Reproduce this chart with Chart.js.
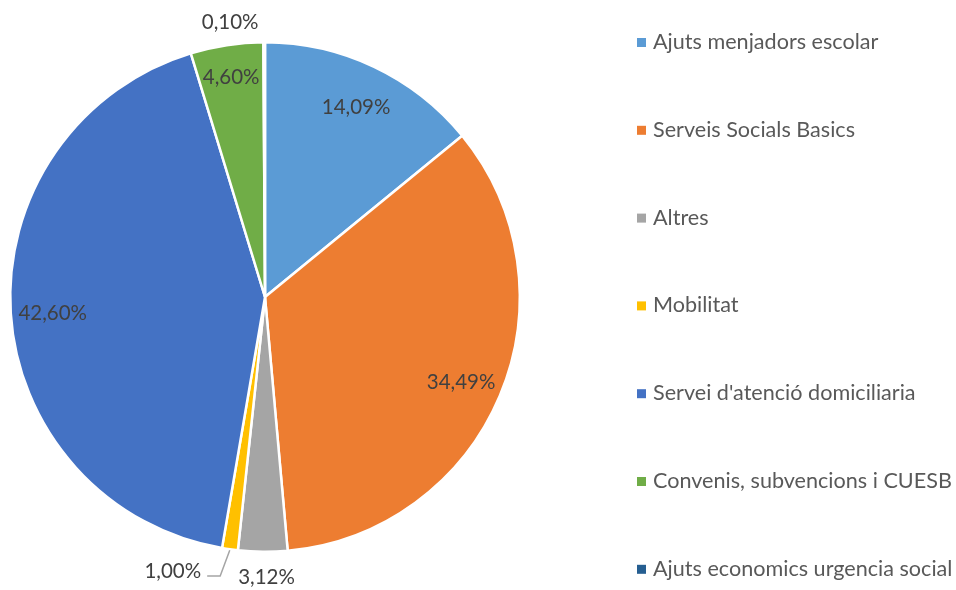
<!DOCTYPE html>
<html>
<head>
<meta charset="utf-8">
<script src="https://cdn.jsdelivr.net/npm/chart.js@4.4.1/dist/chart.umd.min.js"></script>
<style>
  html, body { margin: 0; padding: 0; background: #ffffff; }
  #contenidor { width: 956px; height: 590px; }
</style>
</head>
<body>
<div id="contenidor"><canvas id="graficPressupost"></canvas></div>
<script>
// Dades del gràfic
const categories = [
  'Ajuts menjadors escolar',
  'Serveis Socials Basics',
  'Altres',
  'Mobilitat',
  "Servei d'atenció domiciliaria",
  'Convenis, subvencions i CUESB',
  'Ajuts economics urgencia social'
];
const percentatges = [14.09, 34.49, 3.12, 1.00, 42.60, 4.60, 0.10];
const colors = ['#5B9BD5', '#ED7D31', '#A5A5A5', '#FFC000', '#4472C4', '#70AD47', '#255E91'];

// Com es col·loca cada etiqueta: dins la porció o fora
const posicioEtiqueta = [
  { tipus: 'dins', frac: 0.835 },
  { tipus: 'dins', frac: 0.835 },
  { tipus: 'fora', dist: 26, dx: 4, dy: 0 },
  { tipus: 'guia', dist: 27, dx: -6, dy: 0 },
  { tipus: 'dins', frac: 0.835 },
  { tipus: 'dins', frac: 0.885 },
  { tipus: 'fora', dist: 25, dx: -34, dy: 5 }
];

const FONT = 'Lato, "Open Sans", sans-serif';

function formatPct(v) {
  return v.toFixed(2).replace('.', ',') + '%';
}

// Etiquetes de dades
const etiquetesPlugin = {
  id: 'etiquetes',
  afterDatasetsDraw(chart) {
    const ctx = chart.ctx;
    const arcs = chart.getDatasetMeta(0).data;
    ctx.save();
    ctx.font = '20.5px ' + FONT;
    ctx.fillStyle = '#404040';
    ctx.textBaseline = 'middle';
    arcs.forEach((arc, i) => {
      const { x, y, startAngle, endAngle, outerRadius } =
        arc.getProps(['x', 'y', 'startAngle', 'endAngle', 'outerRadius'], true);
      const mig = (startAngle + endAngle) / 2;
      const text = formatPct(percentatges[i]);
      const pos = posicioEtiqueta[i];
      if (pos.tipus === 'dins') {
        const r = outerRadius * pos.frac;
        ctx.textAlign = 'center';
        ctx.fillText(text, x + Math.cos(mig) * r, y + Math.sin(mig) * r + 3);
      } else if (pos.tipus === 'fora') {
        const r = outerRadius + pos.dist;
        ctx.textAlign = 'center';
        ctx.fillText(text, x + Math.cos(mig) * r + pos.dx, y + Math.sin(mig) * r + pos.dy);
      } else {
        // etiqueta amb línia guia
        const r0 = outerRadius + 1;
        const r1 = outerRadius + pos.dist;
        const x0 = x + Math.cos(mig) * r0;
        const y0 = y + Math.sin(mig) * r0;
        const x1 = x + Math.cos(mig) * r1 + pos.dx;
        const y1 = y + Math.sin(mig) * r1;
        ctx.strokeStyle = '#A5A5A5';
        ctx.lineWidth = 1.5;
        ctx.beginPath();
        ctx.moveTo(x0, y0);
        ctx.lineTo(x1, y1);
        ctx.lineTo(x1 - 13, y1);
        ctx.stroke();
        ctx.textAlign = 'right';
        ctx.fillText(text, x1 - 19, y1 - 5);
      }
    });
    ctx.restore();
  }
};

// Llegenda a la dreta
const llegendaPlugin = {
  id: 'llegenda',
  afterDraw(chart) {
    const ctx = chart.ctx;
    const x = 637;
    const y0 = 42;
    const pas = 87.8;
    ctx.save();
    ctx.font = '21.6px ' + FONT;
    ctx.textBaseline = 'middle';
    ctx.textAlign = 'left';
    categories.forEach((nom, i) => {
      const y = y0 + i * pas;
      ctx.fillStyle = colors[i];
      ctx.fillRect(x, y - 4, 9, 9);
      ctx.fillStyle = '#595959';
      ctx.fillText(nom, x + 16, y);
    });
    ctx.restore();
  }
};

const ctx = document.getElementById('graficPressupost').getContext('2d');
new Chart(ctx, {
  type: 'pie',
  data: {
    labels: categories,
    datasets: [{
      data: percentatges,
      backgroundColor: colors,
      borderColor: '#ffffff',
      borderWidth: 2.5
    }]
  },
  options: {
    responsive: true,
    maintainAspectRatio: false,
    animation: false,
    layout: {
      padding: { left: 9, top: 41, right: 435, bottom: 37 }
    },
    plugins: {
      legend: { display: false },
      tooltip: { enabled: false }
    }
  },
  plugins: [etiquetesPlugin, llegendaPlugin]
});
</script>
</body>
</html>
